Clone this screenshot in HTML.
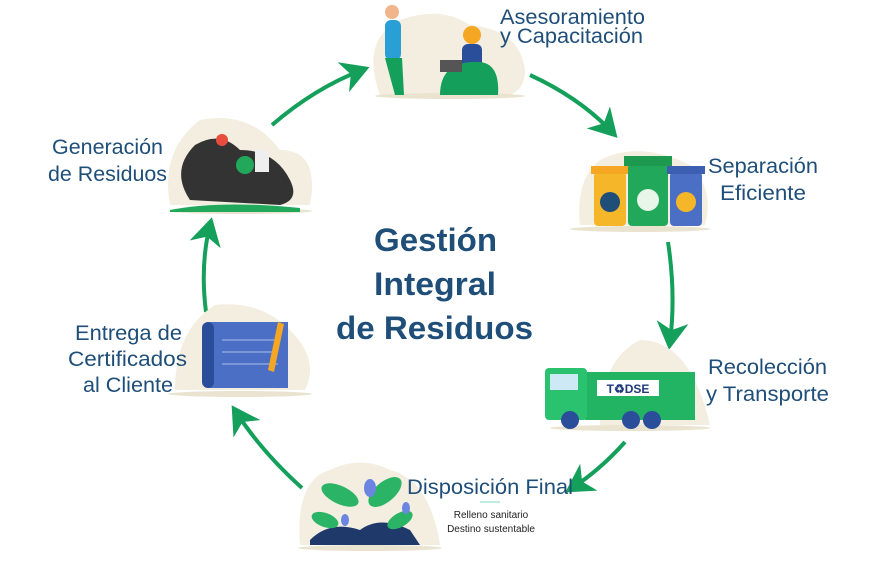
<!DOCTYPE html>
<html><head><meta charset="utf-8"><style>
body{margin:0;background:#fff;}
svg{display:block;font-family:"Liberation Sans",sans-serif;}
.t{fill:#1f4e79;font-size:21px;}
</style></head><body>
<svg width="870" height="570" viewBox="0 0 870 570">
<defs><marker id="a" markerWidth="8" markerHeight="8" refX="5" refY="4" orient="auto" markerUnits="strokeWidth"><path d="M0,0 L7,4 L0,8 L2,4z" fill="#14a05a"/></marker></defs>
<g fill="none" stroke="#14a05a" stroke-width="4" marker-end="url(#a)">
<path d="M272,125 Q315,88 362,70"/>
<path d="M530,75 Q580,98 612,132"/>
<path d="M668,242 Q676,295 670,342"/>
<path d="M625,442 Q600,470 572,488"/>
<path d="M302,488 Q262,452 236,412"/>
<path d="M206,312 Q200,265 210,225"/>
</g>
<g fill="#f3eee0">
<path d="M380,95 Q360,40 400,20 Q440,5 470,25 Q520,30 525,70 Q525,95 500,97z"/>
<path d="M580,225 Q575,180 600,160 Q640,140 690,165 Q715,190 705,225z"/>
<path d="M170,205 Q160,150 200,120 Q250,110 280,150 Q320,150 310,205z"/>
<path d="M175,390 Q175,330 215,305 Q260,300 290,330 Q320,360 305,390z"/>
<path d="M600,425 Q600,360 640,340 Q690,340 710,425z"/>
<path d="M300,545 Q295,480 330,470 Q360,455 390,470 Q430,480 440,545z"/>
</g>
<g fill="#e9e3d0">
<ellipse cx="450" cy="96" rx="75" ry="3"/><ellipse cx="640" cy="229" rx="70" ry="3"/>
<ellipse cx="240" cy="211" rx="72" ry="3"/><ellipse cx="240" cy="394" rx="72" ry="3"/>
<ellipse cx="630" cy="428" rx="80" ry="3"/><ellipse cx="370" cy="548" rx="72" ry="3"/>
</g>
<rect x="385" y="20" width="16" height="40" rx="6" fill="#2a9fd6"/><circle cx="392" cy="12" r="7" fill="#f2b48a"/>
<path d="M385,58 L395,95 L404,95 L402,58z" fill="#14a05a"/>
<circle cx="472" cy="35" r="9" fill="#f5a623"/><rect x="462" y="44" width="20" height="26" rx="6" fill="#2b4e9a"/>
<path d="M440,95 Q440,60 480,62 Q500,64 498,95z" fill="#14a05a"/><rect x="440" y="60" width="22" height="12" fill="#555"/>
<rect x="594" y="172" width="32" height="54" rx="4" fill="#f5b62a"/><rect x="591" y="166" width="38" height="8" fill="#f5a623"/>
<rect x="628" y="164" width="40" height="62" rx="4" fill="#22a85a"/><rect x="624" y="156" width="48" height="10" fill="#1d9950"/>
<rect x="670" y="172" width="32" height="54" rx="4" fill="#4a6fc4"/><rect x="667" y="166" width="38" height="8" fill="#3c5fb2"/>
<circle cx="610" cy="202" r="10" fill="#1f4e79"/><circle cx="648" cy="200" r="11" fill="#e8f5e9"/><circle cx="686" cy="202" r="10" fill="#f5b62a"/>
<path d="M190,200 Q170,170 195,145 Q220,130 240,150 Q275,150 290,180 Q300,200 280,205z" fill="#333"/>
<circle cx="245" cy="165" r="9" fill="#22a85a"/><rect x="255" y="150" width="14" height="22" fill="#eee"/><circle cx="222" cy="140" r="6" fill="#e74c3c"/>
<path d="M170,210 Q220,200 300,208 L300,212 L170,212z" fill="#22a85a"/>
<rect x="208" y="322" width="80" height="66" fill="#4a6fc4"/><rect x="202" y="322" width="12" height="66" rx="6" fill="#2b4e9a"/>
<g stroke="#8ba3e0" stroke-width="1.5"><line x1="222" y1="340" x2="278" y2="340"/><line x1="222" y1="352" x2="278" y2="352"/><line x1="222" y1="364" x2="278" y2="364"/></g>
<path d="M268,370 L278,322 L284,324 L274,372z" fill="#f5a623"/>
<rect x="585" y="372" width="110" height="48" fill="#22b463"/><rect x="545" y="368" width="42" height="52" rx="4" fill="#2bc26f"/>
<rect x="550" y="374" width="28" height="16" fill="#cde9f5"/><rect x="597" y="380" width="62" height="16" fill="#fff"/>
<text x="628" y="393" text-anchor="middle" font-size="12" font-weight="bold" fill="#1f3a7a">T♻DSE</text>
<g fill="#2b4e9a"><circle cx="570" cy="420" r="9"/><circle cx="631" cy="420" r="9"/><circle cx="652" cy="420" r="9"/></g>
<path d="M310,540 Q330,520 360,530 Q380,515 410,530 L420,545 L310,545z" fill="#1f3a6a"/>
<g fill="#2bb466"><ellipse cx="340" cy="495" rx="20" ry="9" transform="rotate(25 340 495)"/><ellipse cx="385" cy="492" rx="20" ry="10" transform="rotate(-40 385 492)"/><ellipse cx="400" cy="520" rx="14" ry="7" transform="rotate(-30 400 520)"/><ellipse cx="325" cy="520" rx="14" ry="7" transform="rotate(20 325 520)"/></g>
<g fill="#6b85e0"><ellipse cx="370" cy="488" rx="6" ry="9"/><ellipse cx="345" cy="520" rx="4" ry="6"/><ellipse cx="406" cy="508" rx="4" ry="6"/></g>
<text class="t" x="500" y="24" textLength="145" lengthAdjust="spacingAndGlyphs">Asesoramiento</text><text class="t" x="500" y="43" textLength="143" lengthAdjust="spacingAndGlyphs">y Capacitación</text>
<text class="t" x="708" y="173" textLength="110" lengthAdjust="spacingAndGlyphs">Separación</text><text class="t" x="720" y="200" textLength="86" lengthAdjust="spacingAndGlyphs">Eficiente</text>
<text class="t" x="52" y="154" textLength="111" lengthAdjust="spacingAndGlyphs">Generación</text><text class="t" x="48" y="181" textLength="119" lengthAdjust="spacingAndGlyphs">de Residuos</text>
<text class="t" x="75" y="340" textLength="107" lengthAdjust="spacingAndGlyphs">Entrega de</text><text class="t" x="68" y="366" textLength="119" lengthAdjust="spacingAndGlyphs">Certificados</text><text class="t" x="83" y="392" textLength="90" lengthAdjust="spacingAndGlyphs">al Cliente</text>
<text class="t" x="708" y="374" textLength="119" lengthAdjust="spacingAndGlyphs">Recolección</text><text class="t" x="706" y="401" textLength="123" lengthAdjust="spacingAndGlyphs">y Transporte</text>
<text class="t" x="407" y="494" textLength="166" lengthAdjust="spacingAndGlyphs">Disposición Final</text>
<line x1="480" y1="502" x2="500" y2="502" stroke="#7ed9c0" stroke-width="1"/>
<text x="491" y="518" font-size="10" fill="#222" text-anchor="middle">Relleno sanitario</text>
<text x="491" y="532" font-size="10" fill="#222" text-anchor="middle">Destino sustentable</text>
<g fill="#1f4e79" font-size="32" font-weight="bold">
<text x="374" y="251" textLength="123" lengthAdjust="spacingAndGlyphs">Gestión</text><text x="374" y="295" textLength="122" lengthAdjust="spacingAndGlyphs">Integral</text><text x="336" y="339" textLength="197" lengthAdjust="spacingAndGlyphs">de Residuos</text></g>
</svg>
</body></html>
